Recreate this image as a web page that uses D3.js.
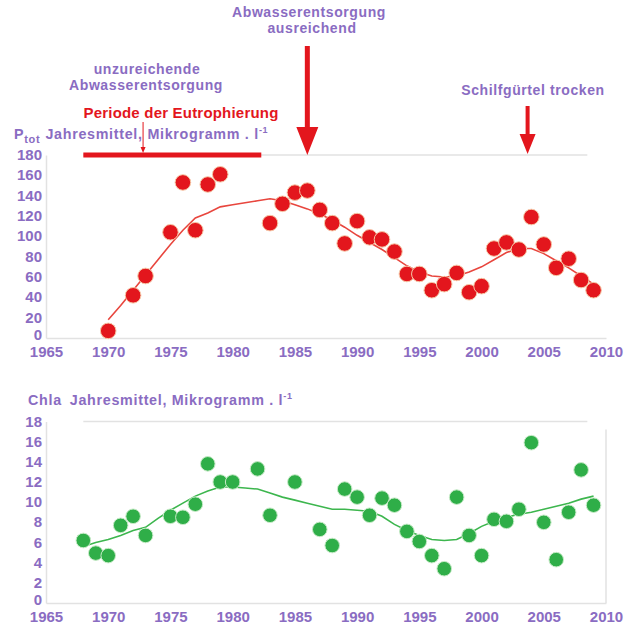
<!DOCTYPE html>
<html><head><meta charset="utf-8">
<script src="https://cdn.jsdelivr.net/npm/d3@7"></script>
<style>
body{margin:0;background:#fff;}
svg{display:block;font-family:"Liberation Sans",Arial,sans-serif;font-weight:bold;}
</style></head>
<body><svg id="c" width="624" height="624"></svg>
<script>
// ---- data ----
const xTicks = [1965,1970,1975,1980,1985,1990,1995,2000,2005,2010];
const pTicks = [0,20,40,60,80,100,120,140,160,180];
const chlaTicks = [0,2,4,6,8,10,12,14,16,18];

const pYears  = [1970,1972,1973,1975,1976,1977,1978,1979,1983,1984,1985,1986,1987,1988,1989,1990,1991,1992,1993,1994,1995,1996,1997,1998,1999,2000,2001,2002,2003,2004,2005,2006,2007,2008,2009];
const pValues = [7,42,61,104,153,106,151,161,113,132,143,145,126,113,93,115,99,97,85,63,63,47,53,64,45,51,88,94,87,119,92,69,78,57,47];

const pTrendYears  = [1970,1971,1972,1973,1974,1975,1976,1977,1978,1979,1980,1981,1982,1983,1984,1985,1986,1987,1988,1989,1990,1991,1992,1993,1994,1995,1996,1997,1998,1999,2000,2001,2002,2003,2004,2005,2006,2007,2008,2009];
const pTrend = [18,32,47,62,77,92,106,118,123,129,131,133,135,137,135,131,127,122,116,109,101,94,87,79,71,65,61,60,61,65,70,77,84,88,88,83,76,69,61,53];

const chlaYears  = [1968,1969,1970,1971,1972,1973,1975,1976,1977,1978,1979,1980,1982,1983,1985,1987,1988,1989,1990,1991,1992,1993,1994,1995,1996,1997,1998,1999,2000,2001,2002,2003,2004,2005,2006,2007,2008,2009];
const chlaValues = [6.2,4.95,4.7,7.7,8.6,6.7,8.6,8.5,9.8,13.8,12.0,12.0,13.3,8.7,12.0,7.3,5.7,11.3,10.5,8.7,10.4,9.7,7.1,6.1,4.7,3.4,10.5,6.7,4.7,8.3,8.1,9.3,15.9,8.0,4.3,9.0,13.2,9.7];

const chlaTrendYears = [1968,1969,1970,1971,1972,1973,1974,1975,1976,1977,1978,1979,1980,1981,1982,1983,1984,1985,1986,1987,1988,1989,1990,1991,1992,1993,1994,1995,1996,1997,1998,1999,2000,2001,2002,2003,2004,2005,2006,2007,2008,2009];
const chlaTrend = [5.6,6.0,6.3,6.7,7.2,7.5,8.4,9.2,9.9,10.6,11.1,11.5,11.5,11.4,11.3,10.9,10.5,10.2,9.9,9.6,9.3,9.3,9.2,9.1,8.6,7.8,7.2,6.7,6.3,6.2,6.3,6.9,7.6,8.1,8.5,8.8,9.0,9.3,9.6,9.9,10.3,10.6];

// ---- styles ----
const PURPLE = "#8a6cc2";
const RED = "#e3161d";
const GREEN = "#2fae48";
const GRID = "#e2e2e2";

const svg = d3.select("#c");
svg.append("rect").attr("width",624).attr("height",624).attr("fill","#fff");

const x = d3.scaleLinear().domain([1965,2010]).range([46,606]);
const yP = d3.scaleLinear().domain([0,180]).range([338,155]);
const yC = d3.scaleLinear().domain([0,18]).range([603,421.5]);

function drawAxes(y, ticks, yTop, yBot){
  const gy = svg.append("g").attr("transform","translate(46,0)")
    .call(d3.axisLeft(y).tickValues(ticks).tickSize(0).tickPadding(4));
  gy.select(".domain").attr("stroke",GRID).attr("stroke-width",1.5);
  gy.selectAll("text").attr("fill",PURPLE).attr("font-size",15).attr("font-weight","bold")
    .attr("font-family","Liberation Sans, Arial, sans-serif").attr("dy",d=>d===0?"0.09em":"0.3em");
  const gx = svg.append("g").attr("transform",`translate(0,${yBot})`)
    .call(d3.axisBottom(x).tickValues(xTicks).tickFormat(d3.format("d")).tickSize(0).tickPadding(8));
  gx.select(".domain").attr("stroke",GRID).attr("stroke-width",1.5);
  gx.selectAll("text").attr("fill",PURPLE).attr("font-size",15).attr("font-weight","bold")
    .attr("font-family","Liberation Sans, Arial, sans-serif");
  svg.append("line").attr("x1",x(1968)).attr("x2",x(2008.5)).attr("y1",yTop).attr("y2",yTop)
    .attr("stroke",GRID).attr("stroke-width",1.5);
}
drawAxes(yP, pTicks, yP(180), yP(0));
drawAxes(yC, chlaTicks, yC(18), yC(0));
svg.append("line").attr("x1",x(2010)).attr("x2",x(2010)).attr("y1",yC(17.2)).attr("y2",yC(0))
  .attr("stroke",GRID).attr("stroke-width",1.5);

// ---- trend lines ----
const lineP = d3.line().x((d,i)=>x(pTrendYears[i])).y(d=>yP(d));
svg.append("path").datum(pTrend).attr("d",lineP).attr("fill","none").attr("stroke","#e8463e").attr("stroke-width",1.6);
const lineC = d3.line().x((d,i)=>x(chlaTrendYears[i])).y(d=>yC(d));
svg.append("path").datum(chlaTrend).attr("d",lineC).attr("fill","none").attr("stroke","#3db64e").attr("stroke-width",1.6);

// ---- dots ----
svg.append("g").selectAll("circle").data(pValues).join("circle")
  .attr("cx",(d,i)=>x(pYears[i])).attr("cy",d=>yP(d)).attr("r",7.8)
  .attr("fill",RED).attr("stroke","#f6c9a8").attr("stroke-width",1);
svg.append("g").selectAll("circle").data(chlaValues).join("circle")
  .attr("cx",(d,i)=>x(chlaYears[i])).attr("cy",d=>yC(d)).attr("r",7.3)
  .attr("fill",GREEN).attr("stroke","#c8ebc8").attr("stroke-width",1);

// ---- titles ----
const tP = svg.append("text").attr("x",14).attr("y",139).attr("fill",PURPLE).attr("font-size",14.3).attr("letter-spacing",0.7);
tP.append("tspan").text("P");
tP.append("tspan").attr("font-size",11).attr("dy",4).text("tot");
tP.append("tspan").attr("dy",-4).attr("dx",5).text("Jahresmittel, Mikrogramm . l");
tP.append("tspan").attr("font-size",9).attr("dy",-6).text("-1");

const tC = svg.append("text").attr("x",28).attr("y",405).attr("fill",PURPLE).attr("font-size",14.3).attr("letter-spacing",0.7);
tC.append("tspan").text("Chla");
tC.append("tspan").attr("dx",8).text("Jahresmittel, Mikrogramm . l");
tC.append("tspan").attr("font-size",9).attr("dy",-6).text("-1");

// ---- annotations ----
function txt(t, cx, cy, color, size, ls){
  svg.append("text").attr("x",cx).attr("y",cy).attr("text-anchor","middle")
    .attr("fill",color).attr("font-size",size).attr("letter-spacing",ls).text(t);
}
txt("Abwasserentsorgung", 309, 17, PURPLE, 14, 0.6);
txt("ausreichend", 312, 33, PURPLE, 14, 0.6);
txt("unzureichende", 147, 74, PURPLE, 14, 0.6);
txt("Abwasserentsorgung", 146, 90, PURPLE, 14, 0.6);
txt("Periode der Eutrophierung", 181, 118, RED, 15, 0.2);
txt("Schilfgürtel trocken", 533, 95, PURPLE, 14, 0.6);

function arrow(cx, y0, y1, shaftW, headW, headL){
  svg.append("path").attr("fill",RED)
    .attr("d",`M${cx-shaftW/2},${y0} L${cx+shaftW/2},${y0} L${cx+shaftW/2},${y1-headL} L${cx+headW/2},${y1-headL} L${cx},${y1} L${cx-headW/2},${y1-headL} L${cx-shaftW/2},${y1-headL} Z`);
}
arrow(x(1986), 46, 155, 5, 22, 28);
arrow(x(2003.7), 106, 154, 4, 16, 20);
svg.append("rect").attr("x",x(1968)).attr("y",yP(180)-2.5).attr("width",x(1982.3)-x(1968)).attr("height",5).attr("fill",RED);
arrow(x(1972.8), 122, 153, 1, 5, 6);
</script></body></html>
